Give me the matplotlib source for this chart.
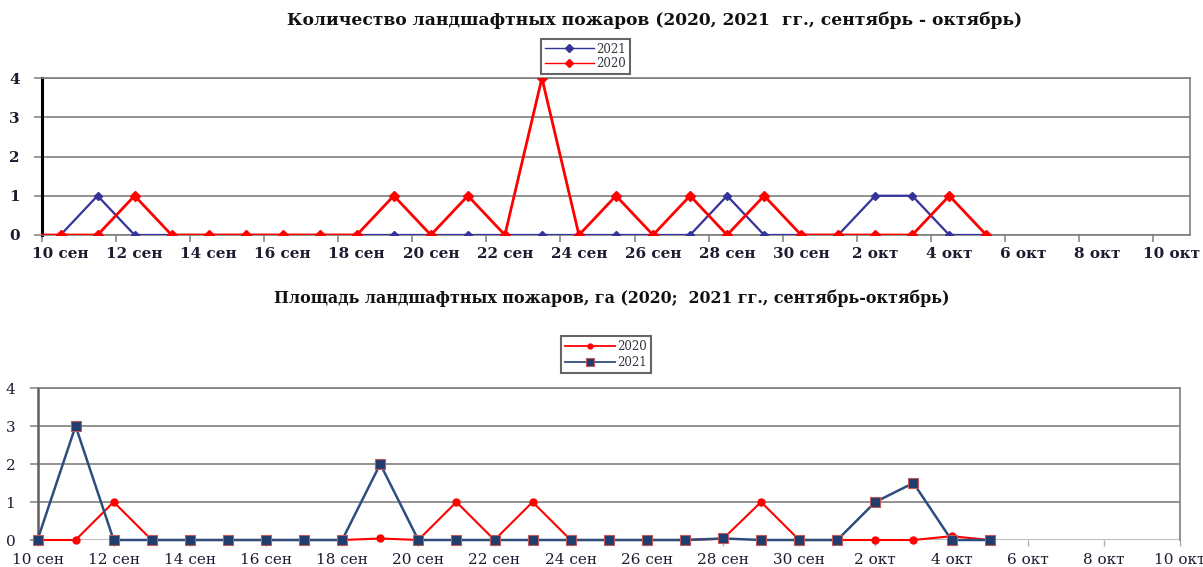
import numpy as np
import matplotlib
matplotlib.use("Agg")
import matplotlib.pyplot as plt
import pandas as pd

# ---------------- data ----------------
month_names = {9: "сен", 10: "окт"}
axis_start = pd.Timestamp("2021-09-10")

top_title = "Количество ландшафтных пожаров (2020, 2021  гг., сентябрь - октябрь)"
bot_title = "Площадь ландшафтных пожаров, га (2020;  2021 гг., сентябрь-октябрь)"

top_dates_2021 = pd.date_range("2021-09-10", "2021-10-05")
top_count_2021 = [0, 1, 0, 0, 0, 0, 0, 0, 0, 0,
                  0, 0, 0, 0, 0, 0, 0, 0, 1, 0,
                  0, 0, 1, 1, 0, 0]
top_dates_2020 = pd.date_range("2021-09-09", "2021-10-05")
top_count_2020 = [0,
                  0, 0, 1, 0, 0, 0, 0, 0, 0, 1,
                  0, 1, 0, 4, 0, 1, 0, 1, 0, 1,
                  0, 0, 0, 0, 1, 0]

bot_dates = pd.date_range("2021-09-10", "2021-10-05")
bot_area_2020 = [0, 0, 1, 0, 0, 0, 0, 0, 0, 0.04,
                 0, 1, 0, 1, 0, 0, 0, 0, 0.03, 1,
                 0, 0, 0, 0, 0.1, 0]
bot_area_2021 = [0, 3, 0, 0, 0, 0, 0, 0, 0, 2,
                 0, 0, 0, 0, 0, 0, 0, 0, 0.04, 0,
                 0, 0, 1, 1.5, 0, 0]

tick_dates = pd.date_range("2021-09-10", "2021-10-10", freq="2D")
tick_labels = [f"{d.day} {month_names[d.month]}" for d in tick_dates]
y_ticks = [0, 1, 2, 3, 4]

# ---------------- style ----------------
SERIF = ["DejaVu Serif"]
TXT = "#1c1c30"
GRID = "#7f7f7f"
BLUE_TOP = "#33339a"
RED = "#ff0000"
NAVY = "#1f3d6e"
NAVY_LINE = "#2e4d7d"


def days(dates):
    return np.array([(d - axis_start).days for d in dates], dtype=float)


fig = plt.figure(figsize=(12.03, 5.67), dpi=100)

# ================= top chart =================
ax1 = fig.add_axes([42 / 1203, 1 - 235 / 567, (1190 - 42) / 1203, (235 - 78) / 567])
ax1.set_xlim(0, 31)
ax1.set_ylim(0, 4)
ax1.set_yticks(y_ticks)
ax1.set_yticklabels([str(v) for v in y_ticks], family=SERIF, fontsize=11,
                    color=TXT, fontweight="bold")
for v in y_ticks:
    ax1.axhline(v, color=GRID, lw=1.2, zorder=1)
tick_x = days(tick_dates)
ax1.set_xticks(tick_x)
ax1.set_xticklabels([])
ax1.set_xticks(tick_x + 0.5, minor=True)
ax1.set_xticklabels(tick_labels, minor=True, family=SERIF, fontsize=11,
                    color=TXT, fontweight="bold")
ax1.tick_params(axis="x", which="major", length=5, color=GRID, width=1.1)
ax1.tick_params(axis="x", which="minor", length=0, pad=9)
ax1.tick_params(axis="y", length=6, color=GRID, width=1.1, pad=10)
ax1.spines["left"].set_color("black")
ax1.spines["left"].set_linewidth(2.2)
for s in ["right", "top", "bottom"]:
    ax1.spines[s].set_color(GRID)
    ax1.spines[s].set_linewidth(1.2)

l21, = ax1.plot(days(top_dates_2021) + 0.5, top_count_2021, color=BLUE_TOP, lw=1.6,
                marker="D", ms=4.5, zorder=3, clip_on=True, label="2021")
l20, = ax1.plot(days(top_dates_2020) + 0.5, top_count_2020, color=RED, lw=2.0,
                marker="D", ms=5, zorder=4, clip_on=True, label="2020")
ax1.set_xlim(0, 31)

leg1 = fig.legend(handles=[l21, l20], labels=["2021", "2020"],
                  loc="upper left", bbox_to_anchor=(541 / 1203, 1 - 39 / 567),
                  prop={"family": SERIF, "size": 8.5}, frameon=True, fancybox=False,
                  edgecolor="#404040", handlelength=4.2, handletextpad=0.2,
                  borderpad=0.3, labelspacing=0.15, borderaxespad=0,
                  markerscale=0.8)
leg1.get_frame().set_linewidth(1.5)
for t in leg1.get_texts():
    t.set_color("#333340")
for ln in leg1.get_lines():
    ln.set_linewidth(1.0)

fig.text(655 / 1203, 1 - 20 / 567, top_title, ha="center", va="center",
         family=SERIF, fontsize=12.3, fontweight="bold", color="#111111")

# ================= bottom chart =================
ax2 = fig.add_axes([37.5 / 1203, 1 - 540 / 567, (1180 - 37.5) / 1203, (540 - 388) / 567])
ax2.set_xlim(0, 30)
ax2.set_ylim(0, 4)
ax2.set_yticks(y_ticks)
ax2.set_yticklabels([str(v) for v in y_ticks], family=SERIF, fontsize=11,
                    color=TXT)
for v in y_ticks[1:]:
    ax2.axhline(v, color=GRID, lw=1.2, zorder=1)
ax2.axhline(0, color="#a8a8a8", lw=1.1, zorder=1)
ax2.set_xticks(tick_x)
ax2.set_xticklabels(tick_labels, family=SERIF, fontsize=11, color=TXT)
ax2.tick_params(axis="x", length=4, color="#b0b0b0", width=1.0, pad=5)
ax2.tick_params(axis="y", length=6, color=GRID, width=1.1, pad=10)
ax2.spines["left"].set_color("#606060")
ax2.spines["left"].set_linewidth(1.8)
for s in ["right", "top"]:
    ax2.spines[s].set_color(GRID)
    ax2.spines[s].set_linewidth(1.2)
ax2.spines["bottom"].set_visible(False)

b20, = ax2.plot(days(bot_dates), bot_area_2020, color=RED, lw=1.5,
                marker="o", ms=5, zorder=3, clip_on=False, label="2020")
b21, = ax2.plot(days(bot_dates), bot_area_2021, color=NAVY_LINE, lw=1.8,
                marker="s", ms=7.5, mfc=NAVY, mec="#c05a5a", mew=0.8,
                zorder=4, clip_on=False, label="2021")

leg2 = fig.legend(handles=[b20, b21], labels=["2020", "2021"],
                  loc="upper left", bbox_to_anchor=(561 / 1203, 1 - 336 / 567),
                  prop={"family": SERIF, "size": 8.5}, frameon=True, fancybox=False,
                  edgecolor="#404040", handlelength=4.2, handletextpad=0.2,
                  borderpad=0.35, labelspacing=0.25, borderaxespad=0,
                  markerscale=0.7)
leg2.get_frame().set_linewidth(1.5)
for t in leg2.get_texts():
    t.set_color("#333340")
for ln in leg2.get_lines():
    ln.set_linewidth(1.3)

fig.text(612 / 1203, 1 - 298 / 567, bot_title, ha="center", va="center",
         family=SERIF, fontsize=11.4, fontweight="bold", color="#111111")

fig.savefig("out.png", dpi=100)
